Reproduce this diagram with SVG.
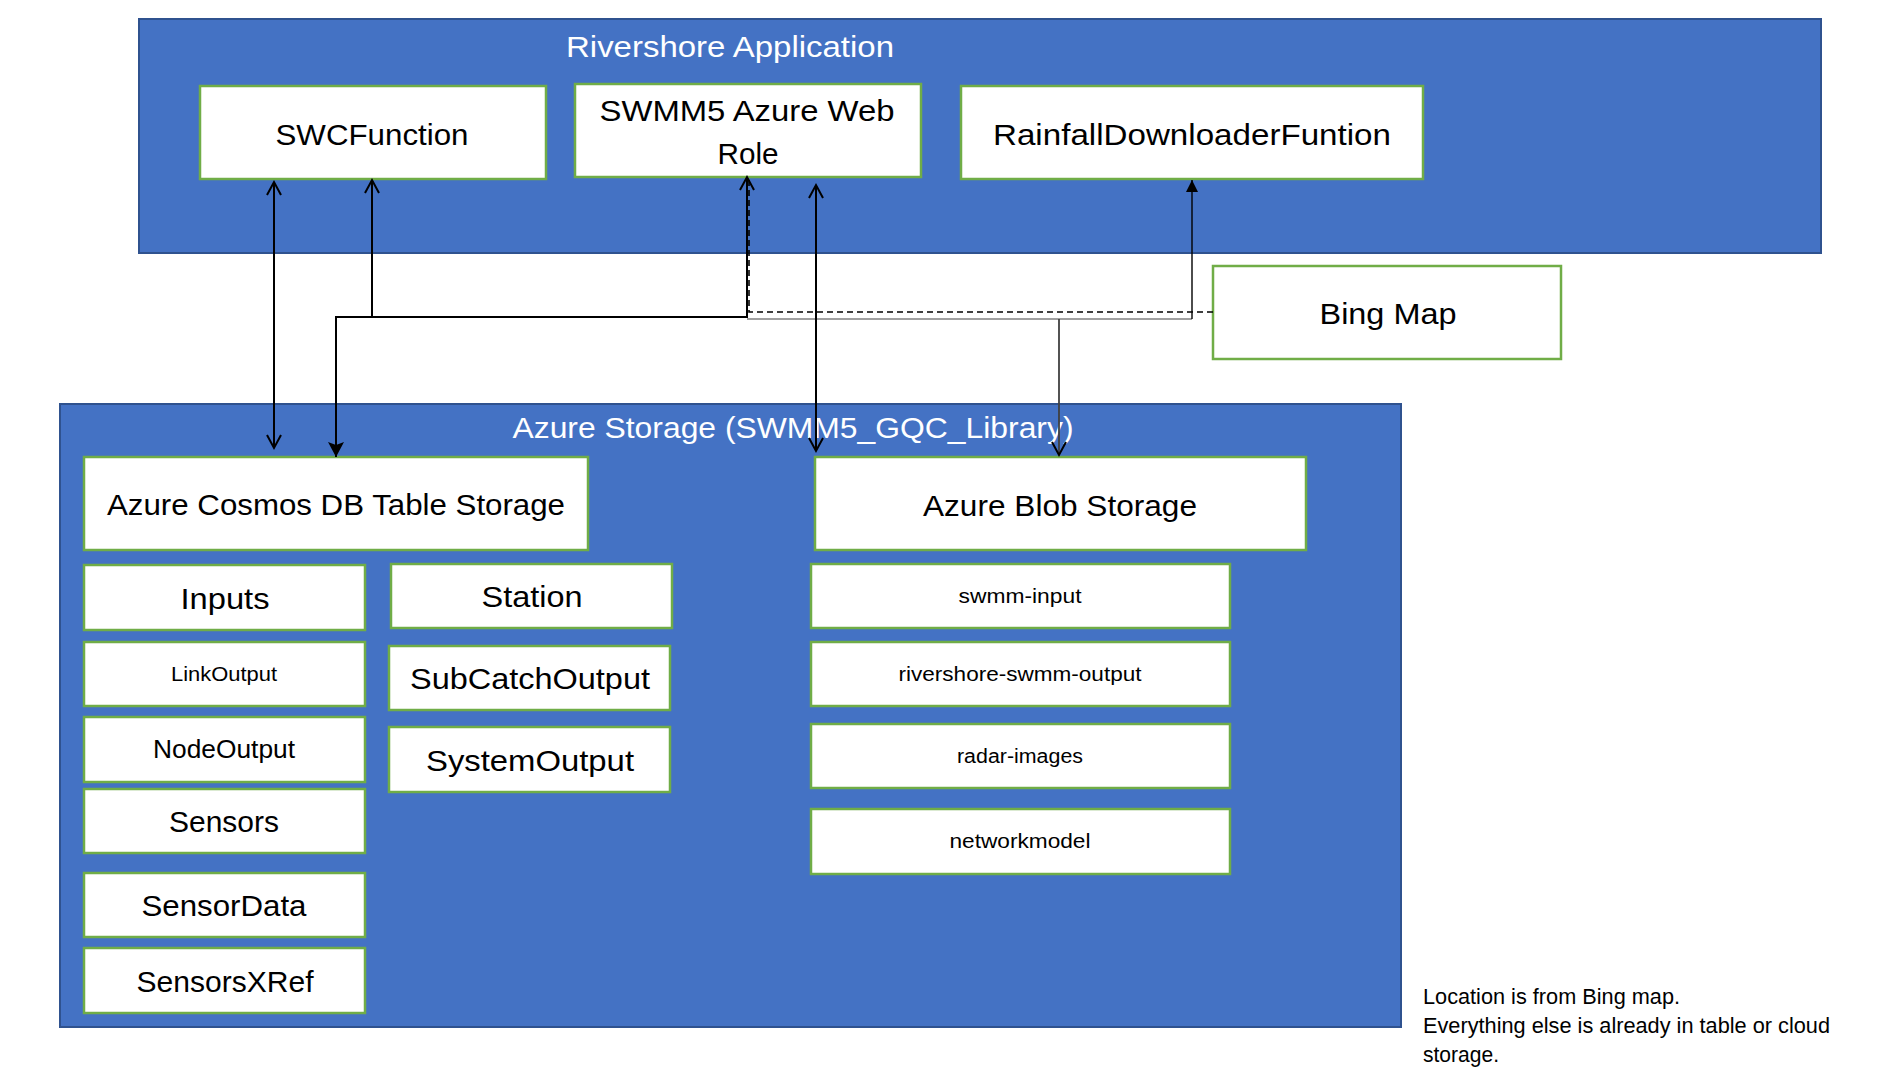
<svg xmlns="http://www.w3.org/2000/svg" width="1886" height="1072" viewBox="0 0 1886 1072">
  <style>
    .container { fill: #4472C4; stroke: #2F528F; stroke-width: 2; }
    .box { fill: #FFFFFF; stroke: #70AD47; stroke-width: 2.5; }
    text { font-family: "Liberation Sans", Arial, sans-serif; text-anchor: middle; fill: #000000; }
    .title { fill: #FFFFFF; font-size: 30px; }
    .lg { font-size: 30px; }
    .md { font-size: 25px; }
    .sm { font-size: 20px; }
    .note { font-size: 22px; text-anchor: start; }
    .conn { fill: none; stroke: #000000; stroke-width: 2; }
    .thin { fill: none; stroke: #000000; stroke-width: 1.4; }
    .gray { fill: none; stroke: #808080; stroke-width: 1.6; }
    .dark { fill: none; stroke: #404040; stroke-width: 1.8; }
    .dash { fill: none; stroke: #000000; stroke-width: 1.6; stroke-dasharray: 6 4; }
  </style>
  <defs>
    <marker id="open" viewBox="-16 -10 20 20" refX="0" refY="0" markerWidth="20" markerHeight="20" markerUnits="userSpaceOnUse" orient="auto-start-reverse">
      <path d="M-13,-7 L0,0 L-13,7" fill="none" stroke="#000000" stroke-width="2"/>
    </marker>
    <marker id="filled" viewBox="-16 -10 20 20" refX="0" refY="0" markerWidth="20" markerHeight="20" markerUnits="userSpaceOnUse" orient="auto-start-reverse">
      <path d="M-15,-8 L0,0 L-15,8 L-12,0 z" fill="#000000"/>
    </marker>
    <marker id="filledSmall" viewBox="-16 -10 20 20" refX="0" refY="0" markerWidth="20" markerHeight="20" markerUnits="userSpaceOnUse" orient="auto-start-reverse">
      <path d="M-12,-6 L0,0 L-12,6 z" fill="#000000"/>
    </marker>
  </defs>

  <g id="rivershore-application">
    <rect class="container" x="139" y="19" width="1682" height="234"/>
    <text class="title" x="730" y="57" textLength="328" lengthAdjust="spacingAndGlyphs">Rivershore Application</text>
  </g>

  <g id="azure-storage">
    <rect class="container" x="60" y="404" width="1341" height="623"/>
    <text class="title" x="793" y="438" textLength="561" lengthAdjust="spacingAndGlyphs">Azure Storage (SWMM5_GQC_Library)</text>
  </g>

  <g id="swcfunction">
    <rect class="box" x="200" y="86" width="346" height="93"/>
    <text class="lg" x="372" y="145" textLength="193" lengthAdjust="spacingAndGlyphs">SWCFunction</text>
  </g>
  <g id="swmm5-web-role">
    <rect class="box" x="575" y="84" width="346" height="93"/>
    <text class="lg" x="747" y="121" textLength="295" lengthAdjust="spacingAndGlyphs">SWMM5 Azure Web</text>
    <text class="lg" x="748" y="164" textLength="61" lengthAdjust="spacingAndGlyphs">Role</text>
  </g>
  <g id="rainfall-downloader">
    <rect class="box" x="961" y="86" width="462" height="93"/>
    <text class="lg" x="1192" y="145" textLength="398" lengthAdjust="spacingAndGlyphs">RainfallDownloaderFuntion</text>
  </g>
  <g id="bing-map">
    <rect class="box" x="1213" y="266" width="348" height="93"/>
    <text class="lg" x="1388" y="324" textLength="137" lengthAdjust="spacingAndGlyphs">Bing Map</text>
  </g>

  <g id="cosmos-table-storage">
    <rect class="box" x="84" y="457" width="504" height="93"/>
    <text class="lg" x="336" y="515" textLength="458" lengthAdjust="spacingAndGlyphs">Azure Cosmos DB Table Storage</text>
  </g>
  <g id="inputs">
    <rect class="box" x="84" y="565" width="281" height="65"/>
    <text class="lg" x="225" y="609" textLength="89" lengthAdjust="spacingAndGlyphs">Inputs</text>
  </g>
  <g id="station">
    <rect class="box" x="391" y="564" width="281" height="64"/>
    <text class="lg" x="532" y="607" textLength="101" lengthAdjust="spacingAndGlyphs">Station</text>
  </g>
  <g id="linkoutput">
    <rect class="box" x="84" y="642" width="281" height="64"/>
    <text class="sm" x="224" y="681" textLength="106" lengthAdjust="spacingAndGlyphs">LinkOutput</text>
  </g>
  <g id="subcatchoutput">
    <rect class="box" x="389" y="646" width="281" height="64"/>
    <text class="lg" x="530" y="689" textLength="240" lengthAdjust="spacingAndGlyphs">SubCatchOutput</text>
  </g>
  <g id="nodeoutput">
    <rect class="box" x="84" y="717" width="281" height="65"/>
    <text class="md" x="224" y="758" textLength="142" lengthAdjust="spacingAndGlyphs">NodeOutput</text>
  </g>
  <g id="systemoutput">
    <rect class="box" x="389" y="727" width="281" height="65"/>
    <text class="lg" x="530" y="771" textLength="208" lengthAdjust="spacingAndGlyphs">SystemOutput</text>
  </g>
  <g id="sensors">
    <rect class="box" x="84" y="789" width="281" height="64"/>
    <text class="lg" x="224" y="832" textLength="110" lengthAdjust="spacingAndGlyphs">Sensors</text>
  </g>
  <g id="sensordata">
    <rect class="box" x="84" y="873" width="281" height="64"/>
    <text class="lg" x="224" y="916" textLength="165" lengthAdjust="spacingAndGlyphs">SensorData</text>
  </g>
  <g id="sensorsxref">
    <rect class="box" x="84" y="948" width="281" height="65"/>
    <text class="lg" x="225" y="992" textLength="177" lengthAdjust="spacingAndGlyphs">SensorsXRef</text>
  </g>

  <g id="blob-storage">
    <rect class="box" x="815" y="457" width="491" height="93"/>
    <text class="lg" x="1060" y="516" textLength="274" lengthAdjust="spacingAndGlyphs">Azure Blob Storage</text>
  </g>
  <g id="swmm-input">
    <rect class="box" x="811" y="564" width="419" height="64"/>
    <text class="sm" x="1020" y="603" textLength="123" lengthAdjust="spacingAndGlyphs">swmm-input</text>
  </g>
  <g id="rivershore-swmm-output">
    <rect class="box" x="811" y="642" width="419" height="64"/>
    <text class="sm" x="1020" y="681" textLength="243" lengthAdjust="spacingAndGlyphs">rivershore-swmm-output</text>
  </g>
  <g id="radar-images">
    <rect class="box" x="811" y="724" width="419" height="64"/>
    <text class="sm" x="1020" y="763" textLength="126" lengthAdjust="spacingAndGlyphs">radar-images</text>
  </g>
  <g id="networkmodel">
    <rect class="box" x="811" y="809" width="419" height="65"/>
    <text class="sm" x="1020" y="848" textLength="141" lengthAdjust="spacingAndGlyphs">networkmodel</text>
  </g>

  <g id="connectors">
    <path class="gray" d="M747,319 H1192"/>
    <path class="dark" d="M1059,319 V455" marker-end="url(#open)"/>
    <path class="thin" d="M1192,319 V180" marker-end="url(#filledSmall)"/>
    <path class="dash" d="M1213,312 H749 V178"/>
    <path class="conn" d="M274,448 V182" marker-start="url(#open)" marker-end="url(#open)"/>
    <path class="conn" d="M372,317 V180" marker-end="url(#open)"/>
    <path class="conn" d="M336,457 V317 H747 V177" marker-start="url(#filled)" marker-end="url(#open)" stroke-width="2.6"/>
    <path class="conn" d="M816,451 V185" marker-start="url(#open)" marker-end="url(#open)"/>
  </g>

  <g id="note">
    <text class="note" x="1423" y="1004" textLength="257" lengthAdjust="spacingAndGlyphs">Location is from Bing map.</text>
    <text class="note" x="1423" y="1033" textLength="407" lengthAdjust="spacingAndGlyphs">Everything else is already in table or cloud</text>
    <text class="note" x="1423" y="1062" textLength="76" lengthAdjust="spacingAndGlyphs">storage.</text>
  </g>
</svg>
